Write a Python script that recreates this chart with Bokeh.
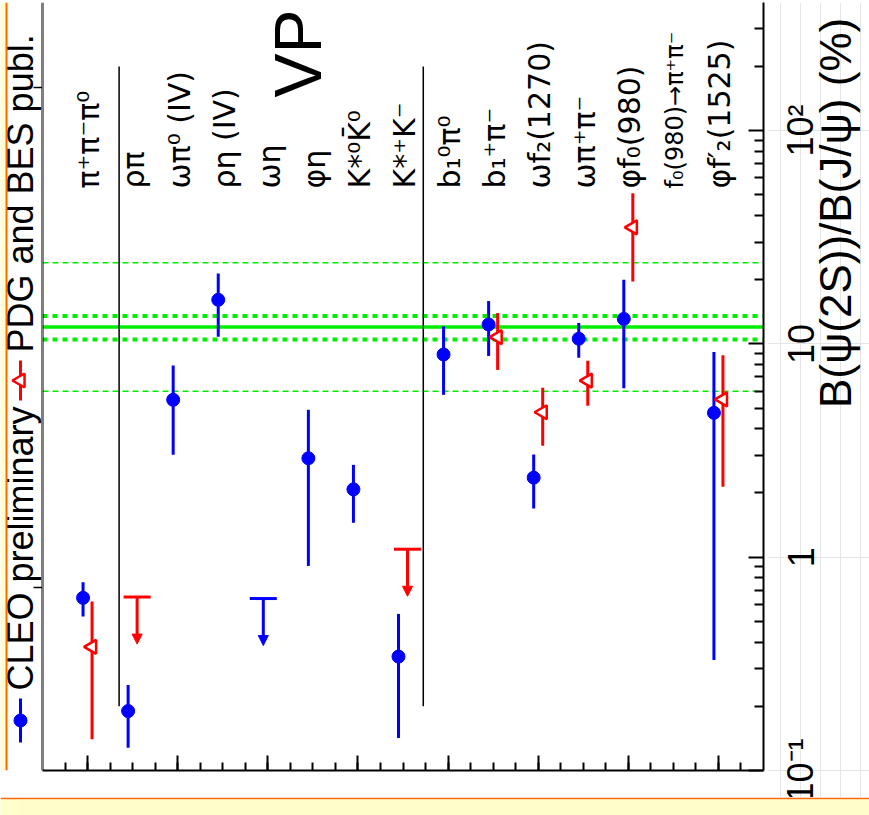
import math
from bokeh.plotting import figure
from bokeh.models import (Range1d, FixedTicker, CustomJSTickFormatter, Span, ColumnDataSource,
                          Arrow, NormalHead, Label, LogScale, BoxAnnotation)
from bokeh.layouts import row, column
from bokeh.embed import file_html
from bokeh.resources import INLINE
from bokeh.core.properties import value, field

# ---------------- data ----------------
channels = ["π⁺π⁻π⁰", "ρπ", "ωπ⁰ (IV)", "ρη (IV)", "ωη", "φη", "K*⁰K̄⁰", "K*⁺K⁻",
            "b₁⁰π⁰", "b₁⁺π⁻", "ωf₂(1270)", "ωπ⁺π⁻", "φf₀(980)", "f₀(980)→π⁺π⁻", "φf′₂(1525)"]

# CLEO preliminary (ratio in %, symmetric error)
cleo_idx = [0, 1, 2, 3, 5, 6, 7, 8, 9, 10, 11, 12, 14]
cleo_val = [0.645, 0.19, 5.47, 16.1, 2.91, 2.08, 0.342, 8.92, 12.33, 2.36, 10.57, 13.1, 4.75]
cleo_err = [0.118, 0.062, 2.45, 5.3, 2.0, 0.63, 0.2, 3.15, 3.55, 0.67, 1.97, 6.9, 4.42]
cleo_ul_idx = [4]
cleo_ul = [0.64]

# PDG and BES published
pdg_idx = [0, 9, 10, 11, 12, 14]
pdg_val = [0.38, 10.75, 4.78, 6.73, 35.2, 5.49]
pdg_err = [0.24, 3.2, 1.45, 1.6, 15.6, 3.35]
pdg_ul_idx = [1, 7]
pdg_ul = [0.65, 1.09]

# "12% rule" reference lines
rule_center = 12.0
rule_inner = [10.5, 13.5]
rule_outer = [6.0, 24.0]

# group separators (channel-axis positions)
sep_x = [1.7, 8.45]

y_tick_vals = [0.1, 1, 10, 100]
y_tick_labels = ["10⁻¹", "1", "10", "10²"]
y_title = "B(ψ(2S))/B(J/ψ) (%)"

BLUE = "#0000ff"
RED = "#ff0000"
GREEN = "#00ee00"
ORANGE = "#ff6a00"
YELLOW = "#ffffcc"

# ---------------- geometry (pixels) ----------------
PXD = 213.3          # pixels per decade on the value axis
FRAME_H = 768        # frame height
BOTTOM_PAD = 27      # below the frame
PANEL_H = FRAME_H + BOTTOM_PAD
y_top = 0.1 * 10 ** (FRAME_H / PXD)
y_bot_ext = 0.1 * 10 ** (-BOTTOM_PAD / PXD)

def base_fig(w, h, **kw):
    f = figure(width=w, height=h, toolbar_location=None, output_backend="svg", **kw)
    f.outline_line_color = None
    return f

# ---------------- main figure ----------------
p = base_fig(725, PANEL_H, x_range=Range1d(0, 16), y_range=Range1d(0.1, y_top),
             y_axis_type="log", y_axis_location="right",
             min_border_left=0, min_border_top=0, min_border_bottom=BOTTOM_PAD,
             min_border_right=4)
p.xgrid.visible = False
p.ygrid.visible = False
p.background_fill_color = "white"
p.border_fill_color = "white"

for v in rule_outer:
    p.add_layout(Span(location=v, dimension="width", line_color=GREEN, line_width=1.5,
                      line_dash="6 4", level="underlay"))
for v in rule_inner:
    p.add_layout(Span(location=v, dimension="width", line_color=GREEN, line_width=4,
                      line_dash="5 5", level="underlay"))
p.add_layout(Span(location=rule_center, dimension="width", line_color=GREEN, line_width=3.5,
                  level="underlay"))
p.add_layout(Span(location=0, dimension="height", line_color="black", line_width=2))

# separators
p.segment(x0=sep_x, y0=[0.2] * len(sep_x), x1=sep_x, y1=[200] * len(sep_x),
          line_color="black", line_width=1.5)

# CLEO points
cx = [i + 0.9 for i in cleo_idx]
p.segment(x0=cx, y0=[v - e for v, e in zip(cleo_val, cleo_err)], x1=cx,
          y1=[v + e for v, e in zip(cleo_val, cleo_err)], line_color=BLUE, line_width=3)
p.scatter(cx, cleo_val, size=13, marker="circle", color=BLUE)

# PDG points
px = [i + 1.1 for i in pdg_idx]
p.segment(x0=px, y0=[v - e for v, e in zip(pdg_val, pdg_err)], x1=px,
          y1=[v + e for v, e in zip(pdg_val, pdg_err)], line_color=RED, line_width=3)
p.scatter(px, pdg_val, size=14, marker="triangle", angle=math.pi / 2,
          fill_color="white", line_color=RED, line_width=2.5)

# upper limits
ARROW_F = 10 ** (47 / PXD)
def upper_limits(idx, ul, off, color):
    xs = [i + off for i in idx]
    p.segment(x0=[x - 0.3 for x in xs], y0=ul, x1=[x + 0.3 for x in xs], y1=ul,
              line_color=color, line_width=3)
    src = ColumnDataSource(dict(x=xs, y0=ul, y1=[u / ARROW_F for u in ul]))
    p.add_layout(Arrow(x_start="x", y_start="y0", x_end="x", y_end="y1", source=src,
                       line_color=color, line_width=3,
                       end=NormalHead(size=10, fill_color=color, line_color=color, line_width=1)))

upper_limits(cleo_ul_idx, cleo_ul, 0.9, BLUE)
upper_limits(pdg_ul_idx, pdg_ul, 1.1, RED)

# channel labels (rotated, reading upward)
lab_src = ColumnDataSource(dict(
    x=[i + 1.03 for i in range(len(channels))],
    y=[53.5] * len(channels),
    text=channels,
    fs=["24px" if "→" in c else "30px" for c in channels],
))
p.text(x="x", y="y", text="text", source=lab_src, angle=math.pi / 2,
       text_font=value("DejaVu Sans"), text_font_size=field("fs"),
       text_baseline="alphabetic", text_align="left", text_color="black")

p.add_layout(Label(x=5.66, y=143, text="VP", angle=math.pi / 2, text_font="Liberation Sans",
                   text_font_size="66px", text_baseline="alphabetic", text_align="left",
                   text_color="black"))

# axes
xa = p.xaxis[0]
xa.ticker = FixedTicker(ticks=[1, 3, 5, 7, 9, 11, 13, 15],
                        minor_ticks=[k * 0.5 for k in range(1, 32)])
xa.major_tick_in = 15
xa.major_tick_out = 0
xa.minor_tick_in = 8
xa.minor_tick_out = 0
xa.formatter = CustomJSTickFormatter(code="return ''")
xa.major_label_text_font_size = "1px"
xa.axis_line_width = 2
xa.major_tick_line_width = 2
xa.minor_tick_line_width = 2

minor_y = []
for dec in [0.1, 1, 10, 100]:
    for m in range(2, 10):
        if dec * m < y_top:
            minor_y.append(dec * m)
ya = p.yaxis[0]
ya.ticker = FixedTicker(ticks=y_tick_vals, minor_ticks=minor_y)
ya.formatter = CustomJSTickFormatter(code="return ''")
ya.major_label_text_font_size = "0px"
ya.major_label_standoff = 0
ya.major_tick_in = 15
ya.major_tick_out = 0
ya.minor_tick_in = 9
ya.minor_tick_out = 0
ya.axis_line_width = 2
ya.major_tick_line_width = 2
ya.minor_tick_line_width = 2

# ---------------- right panel: value-axis labels on the same log scale ----------------
rf = base_fig(102, PANEL_H, x_range=Range1d(767, 869), y_range=Range1d(y_bot_ext, y_top),
              y_axis_type="log", x_axis_location=None, y_axis_location=None, min_border=0)
rf.y_scale = LogScale()
rf.background_fill_color = "white"
rf.border_fill_color = "white"
rf.text(x=[800] * len(y_tick_vals), y=y_tick_vals, text=y_tick_labels, angle=math.pi / 2,
        text_font=value("Liberation Sans"), text_font_size="36px",
        text_baseline="alphabetic", text_align="center", text_color="black")
rf.text(x=[835], y=[5.0], text=[y_title], angle=math.pi / 2,
        text_font=value("Liberation Sans"), text_font_size="44px",
        text_baseline="alphabetic", text_align="left", text_color="black")

# ---------------- legend strip (left) ----------------
lg = base_fig(42, PANEL_H, x_range=Range1d(0, 42), y_range=Range1d(770, 2), min_border=0,
              x_axis_type=None, y_axis_type=None)
lg.min_border_bottom = BOTTOM_PAD
lg.background_fill_color = "white"
lg.border_fill_color = "white"
lg.add_layout(BoxAnnotation(left=0, right=5, fill_color=YELLOW, fill_alpha=1, line_color=None))
lg.add_layout(BoxAnnotation(left=5, right=7, fill_color=ORANGE, fill_alpha=1, line_color=None))
lg.segment(x0=[20], y0=[698], x1=[20], y1=[742], line_color=BLUE, line_width=3)
lg.scatter([20], [720], size=13, marker="circle", color=BLUE)
lg.text(x=[20], y=[690], text=["CLEO preliminary"], angle=math.pi / 2,
        text_font=value("Liberation Sans"), text_font_size="36px",
        text_baseline="alphabetic", text_align="left", text_color="black")
lg.segment(x0=[20], y0=[360], x1=[20], y1=[400], line_color=RED, line_width=3)
lg.scatter([20], [380], size=14, marker="triangle", angle=math.pi / 2,
           fill_color="white", line_color=RED, line_width=2.5)
lg.text(x=[20], y=[352], text=["PDG and BES publ."], angle=math.pi / 2,
        text_font=value("Liberation Sans"), text_font_size="36px",
        text_baseline="alphabetic", text_align="left", text_color="black")
lg.segment(x0=[33, 33], y0=[87, 587], x1=[42, 42], y1=[87, 587],
           line_color="black", line_width=1.5)
lg.segment(x0=[42], y0=[2], x1=[42], y1=[770], line_color="black", line_width=2)

# ---------------- decorative slide borders ----------------
top = base_fig(869, 2, x_axis_type=None, y_axis_type=None, min_border=0)
top.background_fill_color = ORANGE
top.border_fill_color = ORANGE

st = base_fig(869, 18, x_axis_type=None, y_axis_type=None, min_border=0)
st.min_border_top = 2
st.background_fill_color = YELLOW
st.border_fill_color = ORANGE

layout = column(top, row(lg, p, column(rf)), st)
open("out.html", "w").write(file_html(layout, INLINE))
